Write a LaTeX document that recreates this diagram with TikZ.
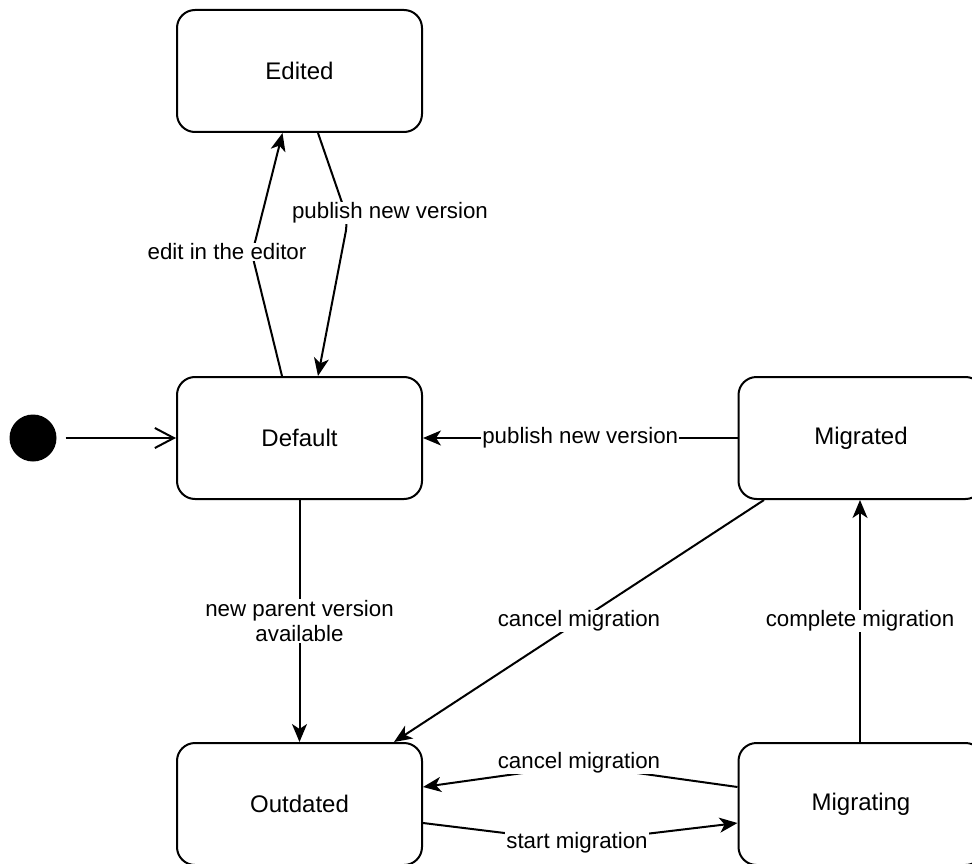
\documentclass[tikz,border=0pt]{standalone}
\usepackage{fontspec}
\setmainfont{Liberation Sans}
\usetikzlibrary{arrows.meta}

\tikzset{
  state/.style={draw, line width=2pt, rounded corners=18pt, minimum width=245pt, minimum height=122pt, font=\fontsize{24}{28}\selectfont},
  trans/.style={line width=2pt, -{Stealth[length=18pt, width=15pt, inset=5pt]}},
  lbl/.style={fill=white, inner sep=1pt, font=\fontsize{22.3}{25}\selectfont, align=center}
}

\begin{document}
\begin{tikzpicture}[x=1pt, y=-1pt]
\path[use as bounding box, clip] (0,0) rectangle (972,864);

% states
\node[state] (edited) at (299.5, 71) {Edited};
\node[state] (default) at (299.5, 438) {Default};
\node[state] (migrated) at (861, 438) {Migrated};
\node[state] (outdated) at (299.5, 804) {Outdated};
\node[state] (migrating) at (861, 804) {Migrating};
\node[circle, fill, minimum size=47pt, inner sep=0pt] (start) at (33, 438) {};

% transitions
\draw[line width=2pt, -{Straight Barb[length=19pt, width=20pt]}] ([xshift=9pt]start.east) -- (default.west);

\draw[trans] ([xshift=-17.5pt]default.north) -- (252, 254) -- ([xshift=-17pt]edited.south);
\node[lbl] (editlbl) at (227, 252) {edit in the editor};

\draw[trans, rounded corners=12pt] ([xshift=18.5pt]edited.south) -- (348, 220) -- ([xshift=18.5pt]default.north);
\node[lbl] (publbl) at (390, 213) {publish new version};

\draw[trans] (migrated.west) -- node[lbl] (republbl) {publish new version} (default.east);

\draw[trans] (default.south) -- node[lbl] (parentlbl) {new parent version\\available} (outdated.north);

\draw[trans] ([xshift=26.5pt]migrated.south west) -- node[lbl] (cancellbl) {cancel migration} ([xshift=-29pt]outdated.north east);

\draw[trans] ([xshift=-1pt]migrating.north) -- node[lbl] (completelbl) {complete migration} ([xshift=-1pt]migrated.south);

\draw[trans] ([yshift=17pt]migrating.west) -- (580, 765) -- ([yshift=17pt]outdated.east);
\node[lbl] (cancel2lbl) at (579, 763) {cancel migration};

\draw[trans] ([yshift=-19pt]outdated.east) -- (578, 842) -- ([yshift=-19pt]migrating.west);
\node[lbl] (startlbl) at (577, 843) {start migration};

\end{tikzpicture}
\end{document}
